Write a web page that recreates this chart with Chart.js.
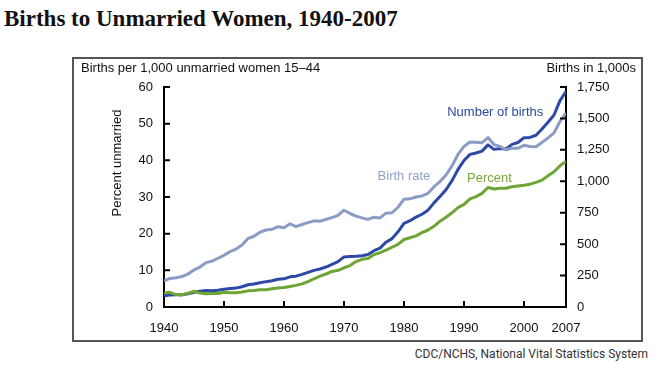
<!DOCTYPE html>
<html>
<head>
<meta charset="utf-8">
<script src="https://cdn.jsdelivr.net/npm/chart.js@4/dist/chart.umd.min.js"></script>
<style>
  body { margin: 0; background: #fff; width: 660px; height: 371px; position: relative; overflow: hidden; }
  #title { position: absolute; left: 4px; top: 6px; font: bold 23px "Liberation Serif", serif; color: #111; white-space: nowrap; }
  #box { position: absolute; left: 72px; top: 57px; width: 571px; height: 285px; border: 2px solid #555; box-sizing: border-box; }
  #source { position: absolute; right: 12px; top: 347px; font: 12px Roboto, sans-serif; color: #333; }
  #wrap { position: absolute; left: 0; top: 0; width: 660px; height: 371px; }
</style>
</head>
<body>
<div id="title">Births to Unmarried Women, 1940-2007</div>
<div id="box"></div>
<div id="source">CDC/NCHS, National Vital Statistics System</div>
<div id="wrap"><canvas id="births" width="660" height="371"></canvas></div>
<script>
const years = [1940, 1941, 1942, 1943, 1944, 1945, 1946, 1947, 1948, 1949,
  1950, 1951, 1952, 1953, 1954, 1955, 1956, 1957, 1958, 1959,
  1960, 1961, 1962, 1963, 1964, 1965, 1966, 1967, 1968, 1969,
  1970, 1971, 1972, 1973, 1974, 1975, 1976, 1977, 1978, 1979,
  1980, 1981, 1982, 1983, 1984, 1985, 1986, 1987, 1988, 1989,
  1990, 1991, 1992, 1993, 1994, 1995, 1996, 1997, 1998, 1999,
  2000, 2001, 2002, 2003, 2004, 2005, 2006, 2007]

// births in 1,000s (right axis)
const numberOfBirths = [89.5, 95.7, 96.5, 98.1, 105.2, 117.4, 125.2, 131.9, 129.7, 133.2,
  141.6, 146.5, 150.3, 160.8, 176.6, 183.3, 193.5, 201.7, 208.7, 220.6,
  224.3, 240.2, 245.1, 259.4, 275.7, 291.2, 302.4, 318.1, 339.2, 360.8,
  398.7, 401.4, 403.2, 407.3, 418.1, 447.9, 468.1, 515.7, 543.9, 597.8,
  665.7, 686.6, 715.2, 737.9, 770.4, 828.2, 878.5, 933.0, 1005.3, 1094.2,
  1165.4, 1213.8, 1224.9, 1240.2, 1289.6, 1253.9, 1260.3, 1257.4, 1293.6, 1308.6,
  1347.0, 1349.2, 1366.0, 1415.8, 1470.2, 1527.0, 1641.9, 1714.6]

// births per 1,000 unmarried women 15-44 (left axis)
const birthRate = [7.1, 7.8, 8.0, 8.3, 9.0, 10.1, 10.9, 12.1, 12.5, 13.3,
  14.1, 15.1, 15.8, 16.9, 18.7, 19.3, 20.4, 21.0, 21.2, 21.9,
  21.6, 22.7, 21.9, 22.5, 23.0, 23.5, 23.4, 23.9, 24.4, 25.0,
  26.4, 25.5, 24.8, 24.3, 23.9, 24.5, 24.3, 25.6, 25.7, 27.2,
  29.4, 29.5, 30.0, 30.3, 31.0, 32.8, 34.2, 36.0, 38.5, 41.6,
  43.8, 45.0, 44.9, 44.8, 46.2, 44.3, 43.8, 42.9, 43.3, 43.3,
  44.1, 43.8, 43.7, 44.9, 46.1, 47.5, 50.6, 52.9]

// percent of births to unmarried women (left axis)
const percentUnmarried = [3.8, 4.0, 3.4, 3.3, 3.8, 4.3, 3.8, 3.6, 3.7, 3.7,
  4.0, 3.9, 3.9, 4.1, 4.4, 4.5, 4.7, 4.7, 5.0, 5.2,
  5.3, 5.6, 5.9, 6.3, 6.9, 7.7, 8.4, 9.0, 9.7, 10.0,
  10.7, 11.3, 12.4, 13.0, 13.2, 14.3, 14.8, 15.5, 16.3, 17.1,
  18.4, 18.9, 19.4, 20.3, 21.0, 22.0, 23.4, 24.5, 25.7, 27.1,
  28.0, 29.5, 30.1, 31.0, 32.6, 32.2, 32.4, 32.4, 32.8, 33.0,
  33.2, 33.5, 34.0, 34.6, 35.8, 36.9, 38.5, 39.7]

const xTicks = [1940, 1950, 1960, 1970, 1980, 1990, 2000, 2007]
const leftTicks = [0, 10, 20, 30, 40, 50, 60]
const rightTicks = [0, 250, 500, 750, 1000, 1250, 1500, 1750]

// series labels placed in data coordinates
const seriesLabels = [
  { text: "Number of births", x: 1987.2, y: 53.2, color: "#2b4a9c" },
  { text: "Birth rate", x: 1975.6, y: 35.5, color: "#8ea3c9" },
  { text: "Percent", x: 1990.5, y: 35.2, color: "#78a53a" }
]

const toPoints = vals => vals.map((v, i) => ({ x: years[i], y: v }))

const inwardTicks = {
  id: "inwardTicks",
  afterDatasetsDraw(chart) {
    const ctx = chart.ctx
    const { x, y, y1 } = chart.scales
    const a = chart.chartArea
    ctx.save()
    ctx.strokeStyle = "#000"
    ctx.lineWidth = 2
    ctx.beginPath()
    leftTicks.slice(1).forEach(v => {
      const p = y.getPixelForValue(v)
      ctx.moveTo(a.left, p); ctx.lineTo(a.left + 6, p)
    })
    rightTicks.slice(1).forEach(v => {
      const p = y1.getPixelForValue(v)
      ctx.moveTo(a.right, p); ctx.lineTo(a.right - 6, p)
    })
    xTicks.slice(1, -1).forEach(v => {
      const p = x.getPixelForValue(v)
      ctx.moveTo(p, a.bottom); ctx.lineTo(p, a.bottom - 6)
    })
    ctx.stroke()

    ctx.font = "13px 'Liberation Sans', Arial, sans-serif"
    ctx.textBaseline = "middle"
    ctx.textAlign = "left"
    seriesLabels.forEach(l => {
      ctx.fillStyle = l.color
      ctx.fillText(l.text, x.getPixelForValue(l.x), y.getPixelForValue(l.y))
    })

    // axis titles
    ctx.fillStyle = "#111"
    ctx.font = "13px 'Liberation Sans', Arial, sans-serif"
    ctx.fillText("Births per 1,000 unmarried women 15\u201344", 81, 68)
    ctx.textAlign = "right"
    ctx.fillText("Births in 1,000s", 636, 68)
    ctx.translate(117, (a.top + a.bottom) / 2 - 34)
    ctx.rotate(-Math.PI / 2)
    ctx.textAlign = "center"
    ctx.fillText("Percent unmarried", 0, 0)
    ctx.restore()
  }
}

const tickFont = { family: "'Liberation Sans', Arial, sans-serif", size: 13 }

new Chart(document.getElementById("births"), {
  type: "line",
  data: {
    datasets: [
      { label: "Birth rate", data: toPoints(birthRate), yAxisID: "y", borderColor: "#8a9cc6", borderWidth: 3 },
      { label: "Percent", data: toPoints(percentUnmarried), yAxisID: "y", borderColor: "#6ea534", borderWidth: 3 },
      { label: "Number of births", data: toPoints(numberOfBirths), yAxisID: "y1", borderColor: "#2d49a6", borderWidth: 3 }
    ]
  },
  options: {
    responsive: false,
    animation: false,
    devicePixelRatio: 1,
    layout: { padding: { top: 87, left: 0, right: 0, bottom: 0 } },
    elements: { point: { radius: 0 }, line: { tension: 0, borderJoinStyle: "round" } },
    plugins: { legend: { display: false }, tooltip: { enabled: false } },
    scales: {
      x: {
        type: "linear", min: 1940, max: 2007,
        afterBuildTicks: s => { s.ticks = xTicks.map(v => ({ value: v })) },
        afterFit: s => { s.height = 64 },
        grid: { display: false, drawTicks: false },
        border: { color: "#000", width: 2 },
        ticks: { color: "#111", font: tickFont, padding: 14, maxRotation: 0, autoSkip: false, callback: v => String(v) }
      },
      y: {
        position: "left", min: 0, max: 60,
        afterBuildTicks: s => { s.ticks = leftTicks.map(v => ({ value: v })) },
        afterFit: s => { s.width = 164 },
        grid: { display: false, drawTicks: false },
        border: { color: "#000", width: 2 },
        ticks: { color: "#111", font: tickFont, padding: 11 }
      },
      y1: {
        position: "right", min: 0, max: 1750,
        afterBuildTicks: s => { s.ticks = rightTicks.map(v => ({ value: v })) },
        afterFit: s => { s.width = 94 },
        grid: { display: false, drawTicks: false },
        border: { color: "#000", width: 2 },
        ticks: { color: "#111", font: tickFont, padding: 11, callback: v => v.toLocaleString("en-US") }
      }
    }
  },
  plugins: [inwardTicks]
})
</script>
</body>
</html>
